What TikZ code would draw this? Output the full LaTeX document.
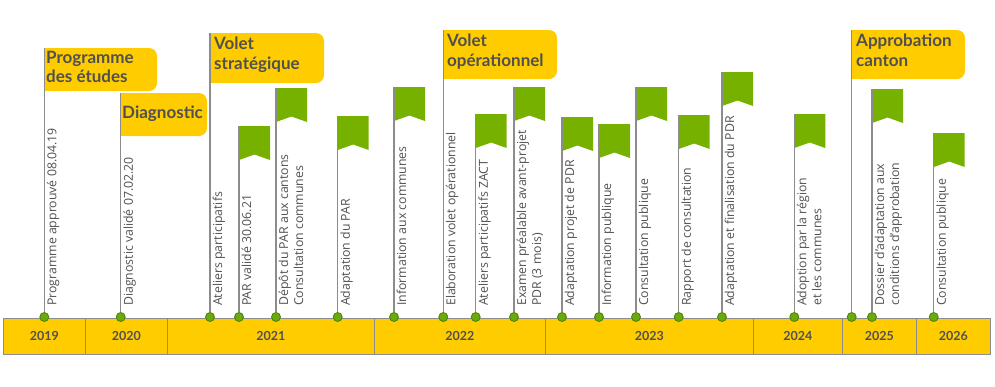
\documentclass[tikz,border=0pt]{standalone}
\usepackage{fontspec}
\setmainfont{Open Sans}
\newfontfamily\headfont{Lato}
\usepackage{xcolor}
\usepackage{tikz}
\usetikzlibrary{positioning,calc}
\definecolor{barbg}{HTML}{FFCC00}
\definecolor{flaggreen}{HTML}{76B100}
\definecolor{dotgreen}{HTML}{6BAA0E}
\definecolor{dotbd}{HTML}{4C7F07}
\definecolor{txtgray}{HTML}{505050}
\definecolor{polegray}{HTML}{8C8C8C}

\begin{document}
\begin{tikzpicture}[x=1pt,y=-1pt,
  yearbox/.style={draw=polegray,fill=barbg,line width=0.9pt,minimum height=36,anchor=north west,inner sep=0pt,
    font=\headfont\bfseries\fontsize{12.5}{14}\selectfont,text=txtgray},
  dot/.style={circle,draw=dotbd,fill=dotgreen,line width=0.8pt,minimum size=9,inner sep=0pt},
  pole/.style={draw=polegray,line width=1.1pt},
  lbl/.style={rotate=90,anchor=north west,align=left,inner sep=0pt,text=txtgray,
    font=\fontsize{12.3}{15}\selectfont},
  stage/.style={fill=barbg,rounded corners=8pt,anchor=north west,align=left,inner sep=0pt,
    text=txtgray,font=\headfont\bfseries\fontsize{17}{19.5}\selectfont,text depth=0pt}
]
\useasboundingbox (0,0) rectangle (995,386);

% annees
\node[yearbox,minimum width=82] (y19) at (3,318) {2019};
\node[yearbox,minimum width=82] (y20) at (85,318) {2020};
\node[yearbox,minimum width=207] (y21) at (167,318) {2021};
\node[yearbox,minimum width=171] (y22) at (374,318) {2022};
\node[yearbox,minimum width=208] (y23) at (545,318) {2023};
\node[yearbox,minimum width=89] (y24) at (753,318) {2024};
\node[yearbox,minimum width=74] (y25) at (842,318) {2025};
\node[yearbox,minimum width=74] (y26) at (916,318) {2026};

% etapes
\fill[barbg,rounded corners=8pt] (44,48) -- (157,48) -- (157,91) -- (44,91) [sharp corners] -- cycle;
\fill[barbg] (44,48) rectangle (60,91);
\node[stage] (s1) at (46,51) {Programme\\des études};
\fill[barbg,rounded corners=8pt] (121,93) -- (207,93) -- (207,136) -- (121,136) -- cycle;
\fill[barbg] (121,93) rectangle (135,136);
\node[stage] (s2) at (122,106) {Diagnostic};
\fill[barbg,rounded corners=8pt] (210,33) -- (324,33) -- (324,83) -- (210,83) -- cycle;
\fill[barbg] (210,33) rectangle (225,83);
\node[stage] (s3) at (214,37) {Volet\\stratégique};
\fill[barbg,rounded corners=8pt] (443,30) -- (557,30) -- (557,79) -- (443,79) -- cycle;
\fill[barbg] (443,30) rectangle (458,79);
\node[stage] (s4) at (447,34) {Volet\\opérationnel};
\fill[barbg,rounded corners=8pt] (852,30) -- (965,30) -- (965,79) -- (852,79) -- cycle;
\fill[barbg] (852,30) rectangle (867,79);
\node[stage] (s5) at (856,34) {Approbation\\canton};

% drapeaux
\foreach \x/\t/\n in {239/126/f1,276/88/f2,337.7/116/f3,394/87/f4,475.7/114/f5,514/87/f6,
  562/117/f7,599/124/f8,636/87/f9,678.7/115/f10,722/72/f11,794.3/114/f12,872/89/f13,933.7/133/f14}
  \fill[flaggreen] (\x,\t) coordinate (\n) -- ++(31,0) -- ++(0,34) -- ++(-15.5,-5.5) -- ++(-15.5,5.5) -- cycle;

% points
\node[dot] (d1) at (44.3,317) {};
\node[dot] (d2) at (120.7,317) {};
\node[dot] (d3) at (210,317) {};
\node[dot] (d4) at (239,317) {};
\node[dot] (d5) at (276,317) {};
\node[dot] (d6) at (337.7,317) {};
\node[dot] (d7) at (394,317) {};
\node[dot] (d8) at (443.3,317) {};
\node[dot] (d9) at (475.7,317) {};
\node[dot] (d10) at (514,317) {};
\node[dot] (d11) at (562,317) {};
\node[dot] (d12) at (599,317) {};
\node[dot] (d13) at (636,317) {};
\node[dot] (d14) at (678.7,317) {};
\node[dot] (d15) at (722,317) {};
\node[dot] (d16) at (794.3,317) {};
\node[dot] (d17) at (851.7,317) {};
\node[dot] (d18) at (872,317) {};
\node[dot] (d19) at (933.7,317) {};

% mats
\draw[pole] (d1.north) -- (d1.north |- 0,48);
\draw[pole] (d2.north) -- (d2.north |- 0,93);
\draw[pole] (d3.north) -- (d3.north |- 0,33);
\draw[pole] (d4.north) -- (f1);
\draw[pole] (d5.north) -- (f2);
\draw[pole] (d6.north) -- (f3);
\draw[pole] (d7.north) -- (f4);
\draw[pole] (d8.north) -- (d8.north |- 0,30);
\draw[pole] (d9.north) -- (f5);
\draw[pole] (d10.north) -- (f6);
\draw[pole] (d11.north) -- (f7);
\draw[pole] (d12.north) -- (f8);
\draw[pole] (d13.north) -- (f9);
\draw[pole] (d14.north) -- (f10);
\draw[pole] (d15.north) -- (f11);
\draw[pole] (d16.north) -- (f12);
\draw[pole] (d17.north) -- (d17.north |- 0,30);
\draw[pole] (d18.north) -- (f13);
\draw[pole] (d19.north) -- (f14);

% textes
\node[lbl] (t1) at ($(d1)+(2.5,-11)$) {Programme approuvé 08.04.19};
\node[lbl] (t2) at ($(d2)+(2.5,-11)$) {Diagnostic validé 07.02.20};
\node[lbl] (t3) at ($(d3)+(2.5,-11)$) {Ateliers participatifs};
\node[lbl] (t4) at ($(d4)+(2.5,-11)$) {PAR validé 30.06.21};
\node[lbl] (t5) at ($(d5)+(2.5,-11)$) {Dépôt du PAR\ aux cantons\\Consultation communes};
\node[lbl] (t6) at ($(d6)+(2.5,-11)$) {Adaptation du PAR};
\node[lbl] (t7) at ($(d7)+(2.5,-11)$) {Information aux communes};
\node[lbl] (t8) at ($(d8)+(2.5,-11)$) {Elaboration volet opérationnel};
\node[lbl] (t9) at ($(d9)+(2.5,-11)$) {Ateliers participatifs ZACT};
\node[lbl] (t10) at ($(d10)+(2.5,-11)$) {Examen préalable avant-projet\\PDR (3 mois)};
\node[lbl] (t11) at ($(d11)+(2.5,-11)$) {Adaptation projet de PDR};
\node[lbl] (t12) at ($(d12)+(2.5,-11)$) {Information publique};
\node[lbl] (t13) at ($(d13)+(2.5,-11)$) {Consultation publique};
\node[lbl] (t14) at ($(d14)+(2.5,-11)$) {Rapport de consultation};
\node[lbl] (t15) at ($(d15)+(2.5,-11)$) {Adaptation et finalisation du PDR};
\node[lbl] (t16) at ($(d16)+(2.5,-11)$) {Adoption par la région\\et les communes};
\node[lbl] (t18) at ($(d18)+(2.5,-11)$) {Dossier d'adaptation aux\\conditions d'approbation};
\node[lbl] (t19) at ($(d19)+(2.5,-11)$) {Consultation publique};
\end{tikzpicture}
\end{document}
